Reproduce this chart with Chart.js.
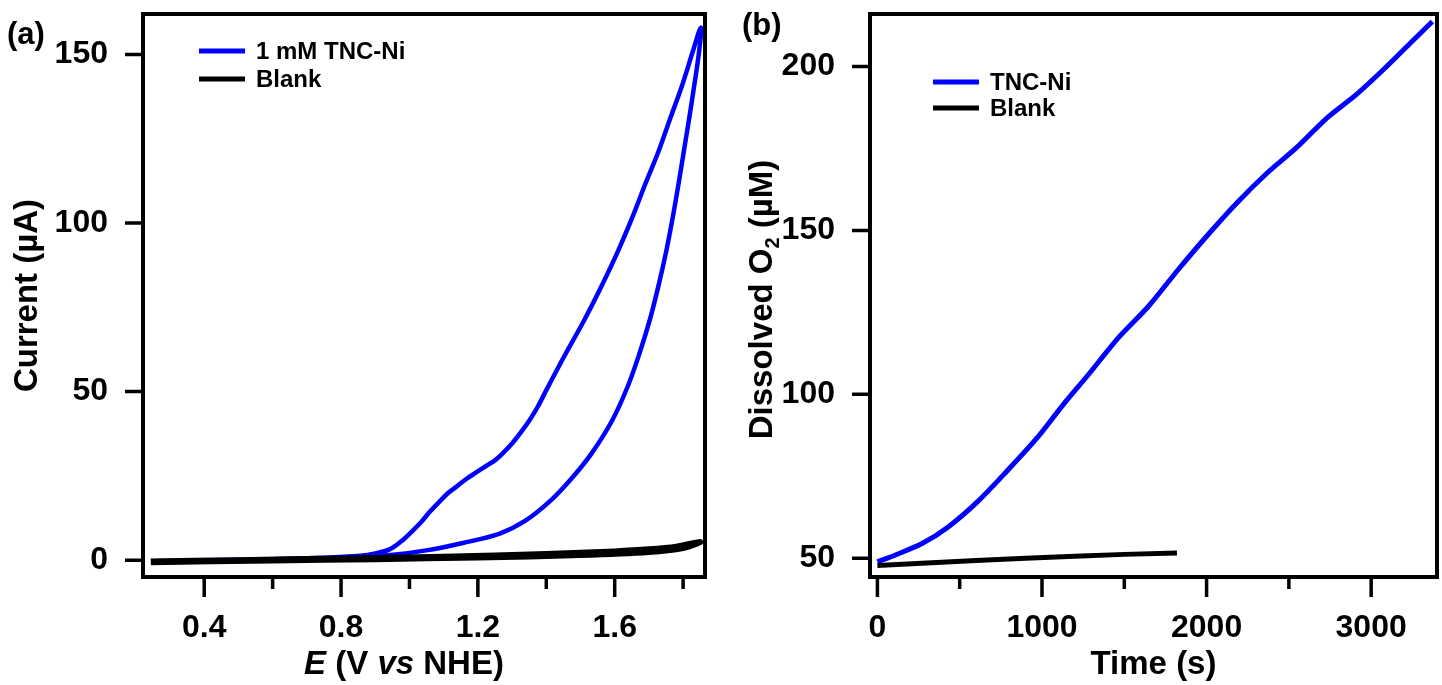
<!DOCTYPE html>
<html>
<head>
<meta charset="utf-8">
<script src="https://cdn.jsdelivr.net/npm/chart.js@4.4.1/dist/chart.umd.min.js"></script>
<style>
  body { margin: 0; background: #fff; }
  .wrap { position: absolute; top: 0; height: 685px; }
  .panel { position: absolute; font: bold 31px "Liberation Sans", Arial, sans-serif; color: #000; }
</style>
</head>
<body>
<div class="wrap" style="left:0;width:720px"><canvas id="cvChart"></canvas></div>
<div class="wrap" style="left:720px;width:722px"><canvas id="o2Chart"></canvas></div>
<div class="panel" style="left:7px;top:16px">(a)</div>
<div class="panel" style="left:742px;top:7px">(b)</div>
<script>
// ---- panel (a): cyclic voltammogram (forward scan, then back) ----
const tncPotential = [0.244, 0.40, 0.60, 0.75, 0.856, 0.90, 0.942, 0.975, 1.006, 1.035, 1.06, 1.09, 1.113, 1.14, 1.165, 1.195, 1.225, 1.25, 1.271, 1.30, 1.325, 1.351, 1.375, 1.402, 1.43, 1.457, 1.512, 1.562, 1.608, 1.650, 1.688, 1.728, 1.763, 1.798, 1.829, 1.852,
  1.847, 1.833, 1.818, 1.802, 1.786, 1.769, 1.750, 1.728, 1.703, 1.673, 1.638, 1.593, 1.532, 1.477, 1.414, 1.339, 1.264, 1.156, 1.049, 0.953, 0.856, 0.695, 0.534, 0.395, 0.25];
const tncCurrent = [-0.3, 0.0, 0.3, 0.7, 1.3, 2.0, 3.2, 5.5, 8.4, 11.4, 14.4, 17.6, 19.9, 22.0, 24.0, 26.0, 28.0, 29.6, 31.5, 34.6, 37.8, 41.5, 45.5, 50.8, 56.2, 61.3, 71.4, 81.4, 91.3, 101.3, 111.2, 121.2, 131.2, 141.1, 151.1, 158.0,
  151.1, 141.1, 131.2, 121.2, 111.2, 101.3, 91.3, 81.4, 71.4, 61.5, 51.5, 41.5, 31.6, 24.6, 17.8, 11.7, 7.9, 5.1, 2.9, 1.6, 1.0, 0.4, 0.1, -0.3, -0.5];
const blankPotential = [0.244, 0.5, 0.8, 1.1, 1.4, 1.6, 1.7, 1.78, 1.85, 1.80, 1.7, 1.5, 1.2, 0.9, 0.6, 0.244];
const blankCurrent = [-0.4, 0.0, 0.5, 1.0, 1.8, 2.6, 3.2, 4.0, 5.4, 3.6, 2.4, 1.5, 0.8, 0.3, -0.1, -0.6];
const cvXTicks = [0.4, 0.8, 1.2, 1.6];
const cvXMinor = [0.6, 1.0, 1.4, 1.8];
const cvYTicks = [0, 50, 100, 150];

// ---- panel (b): dissolved O2 vs time ----
const o2Time = [0, 113, 271, 428, 609, 789, 970, 1128, 1285, 1466, 1646, 1827, 2007, 2188, 2368, 2548, 2729, 2909, 3090, 3248, 3372];
const o2Conc = [48.9, 51.1, 54.5, 59.5, 67.3, 76.7, 86.7, 96.8, 106.2, 117.4, 126.8, 138.0, 148.6, 158.6, 167.5, 175.3, 184.2, 191.4, 199.8, 207.6, 213.7];
const blankTime = [0, 300, 600, 900, 1200, 1500, 1820];
const blankConc = [47.8, 48.6, 49.3, 50.0, 50.6, 51.2, 51.6];
const o2XTicks = [0, 1000, 2000, 3000];
const o2XMinor = [500, 1500, 2500];
const o2YTicks = [50, 100, 150, 200];

const FONT = '"Liberation Sans", Arial, sans-serif';
const BLUE = '#0000ff';

const toPoints = (xs, ys) => xs.map((x, i) => ({ x: x, y: ys[i] }));

// draws a list of text runs (bold / italic / subscript) centred on 0,0
function drawRuns(ctx, runs, size) {
  const fontOf = r => `${r.i ? 'italic ' : ''}bold ${r.sub ? Math.round(size * 0.62) : size}px ${FONT}`;
  let w = 0;
  runs.forEach(r => { ctx.font = fontOf(r); w += ctx.measureText(r.t).width; });
  let x = -w / 2;
  ctx.textBaseline = 'alphabetic';
  ctx.textAlign = 'left';
  runs.forEach(r => {
    ctx.font = fontOf(r);
    ctx.fillText(r.t, x, r.sub ? size * 0.58 : size * 0.36);
    x += ctx.measureText(r.t).width;
  });
}

const framePlugin = {
  id: 'frame',
  afterDraw(chart, args, o) {
    const { ctx, chartArea: a, scales: { x, y } } = chart;
    ctx.save();
    ctx.fillStyle = '#000';
    ctx.strokeStyle = '#000';
    ctx.lineWidth = 4;
    ctx.strokeRect(a.left, a.top, a.right - a.left, a.bottom - a.top);

    // ticks outside the frame
    ctx.lineWidth = 3.5;
    ctx.beginPath();
    o.xMajor.forEach(v => { const p = x.getPixelForValue(v); ctx.moveTo(p, a.bottom); ctx.lineTo(p, a.bottom + 20); });
    o.xMinor.forEach(v => { const p = x.getPixelForValue(v); ctx.moveTo(p, a.bottom); ctx.lineTo(p, a.bottom + 12); });
    o.yMajor.forEach(v => { const p = y.getPixelForValue(v); ctx.moveTo(a.left, p); ctx.lineTo(a.left - 18, p); });
    ctx.stroke();

    // axis titles
    ctx.save();
    ctx.translate((a.left + a.right) / 2 + o.xTitleDx, o.xTitleY);
    drawRuns(ctx, o.xTitle, 33);
    ctx.restore();
    ctx.save();
    ctx.translate(o.yTitleX, (a.top + a.bottom) / 2 + o.yTitleDy);
    ctx.rotate(-Math.PI / 2);
    drawRuns(ctx, o.yTitle, 33);
    ctx.restore();

    // legend
    ctx.font = `bold 24px ${FONT}`;
    ctx.textBaseline = 'middle';
    chart.data.datasets.forEach((ds, i) => {
      const ly = o.legend.y + i * o.legend.gap;
      ctx.strokeStyle = ds.borderColor;
      ctx.lineWidth = 5;
      ctx.beginPath();
      ctx.moveTo(o.legend.x, ly);
      ctx.lineTo(o.legend.x + 46, ly);
      ctx.stroke();
      ctx.fillStyle = '#000';
      ctx.fillText(ds.label, o.legend.x + 57, ly + 1);
    });
    ctx.restore();
  }
};

function makeChart(id, datasets, cfg) {
  const tickFont = { family: FONT, size: 32, weight: 'bold' };
  return new Chart(document.getElementById(id), {
    type: 'scatter',
    data: { datasets: datasets },
    options: {
      responsive: true,
      maintainAspectRatio: false,
      animation: false,
      events: [],
      layout: { padding: { top: 14, right: cfg.padRight, left: 0, bottom: 0 } },
      plugins: {
        legend: { display: false },
        tooltip: { enabled: false },
        frame: {
          xMajor: cfg.xTicks, xMinor: cfg.xMinor, yMajor: cfg.yTicks,
          xTitle: cfg.xTitle, xTitleY: 662, xTitleDx: cfg.xTitleDx || 0,
          yTitle: cfg.yTitle, yTitleX: cfg.yTitleX, yTitleDy: cfg.yTitleDy || 0,
          legend: cfg.legend
        }
      },
      scales: {
        x: {
          type: 'linear', min: cfg.xMin, max: cfg.xMax,
          grid: { display: false }, border: { display: false },
          afterBuildTicks: s => { s.ticks = cfg.xTicks.map(v => ({ value: v })); },
          afterFit: s => { s.height = 108; s.paddingLeft = 0; s.paddingRight = 0; },
          ticks: { font: tickFont, color: '#000', padding: 24, maxRotation: 0, autoSkip: false,
                   callback: v => String(v) }
        },
        y: {
          type: 'linear', min: cfg.yMin, max: cfg.yMax,
          grid: { display: false }, border: { display: false },
          afterBuildTicks: s => { s.ticks = cfg.yTicks.map(v => ({ value: v })); },
          afterFit: s => { s.width = cfg.yWidth; s.paddingTop = 0; s.paddingBottom = 0; },
          ticks: { font: tickFont, color: '#000', padding: 27, autoSkip: false,
                   callback: v => String(v) }
        }
      }
    },
    plugins: [framePlugin]
  });
}

makeChart('cvChart', [
  { label: '1 mM TNC-Ni', data: toPoints(tncPotential, tncCurrent), showLine: true, borderColor: BLUE,
    borderWidth: 4.5, pointRadius: 0, tension: 0.35, order: 1 },
  { label: 'Blank', data: toPoints(blankPotential, blankCurrent), showLine: true, borderColor: '#000',
    borderWidth: 6, pointRadius: 0, tension: 0.3, order: 0 }
], {
  xMin: 0.221, xMax: 1.864, yMin: -5, yMax: 162,
  xTicks: cvXTicks, xMinor: cvXMinor, yTicks: cvYTicks,
  yWidth: 143, padRight: 15, yTitleX: 25, xTitleDx: -20,
  xTitle: [{ t: 'E', i: true }, { t: ' (V ' }, { t: 'vs', i: true }, { t: ' NHE)' }],
  yTitle: [{ t: 'Current (µA)' }],
  legend: { x: 199, y: 51, gap: 28 }
});

makeChart('o2Chart', [
  { label: 'TNC-Ni', data: toPoints(o2Time, o2Conc), showLine: true, borderColor: BLUE,
    borderWidth: 5, pointRadius: 0, tension: 0.3, order: 1 },
  { label: 'Blank', data: toPoints(blankTime, blankConc), showLine: true, borderColor: '#000',
    borderWidth: 5, pointRadius: 0, tension: 0, order: 0 }
], {
  xMin: -45, xMax: 3400, yMin: 44.3, yMax: 216,
  xTicks: o2XTicks, xMinor: o2XMinor, yTicks: o2YTicks,
  yWidth: 150, padRight: 5, yTitleX: 40, yTitleDy: 4,
  xTitle: [{ t: 'Time (s)' }],
  yTitle: [{ t: 'Dissolved O' }, { t: '2', sub: true }, { t: ' (µM)' }],
  legend: { x: 213, y: 82, gap: 26 }
});
</script>
</body>
</html>
